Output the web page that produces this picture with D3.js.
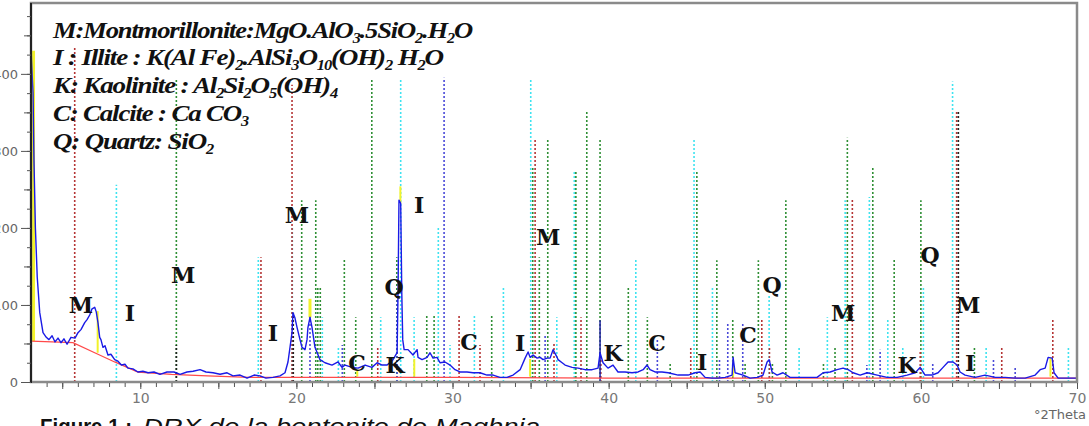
<!DOCTYPE html>
<html><head><meta charset="utf-8">
<script src="https://cdn.jsdelivr.net/npm/d3@7/dist/d3.min.js"></script>
<style>body{margin:0;background:#fff;overflow:hidden}svg{display:block}</style>
</head><body><svg id="c" width="1089" height="426"></svg>
<script>
// ---- data (°2Theta, intensity) ----
const patternTheta = [3.00,3.03,3.13,3.19,3.28,3.40,3.56,3.77,3.98,4.15,4.35,4.54,4.73,4.92,5.11,5.31,5.56,5.82,6.01,6.20,6.44,6.59,6.76,6.91,7.08,7.18,7.29,7.40,7.48,7.61,7.74,7.93,8.12,8.36,8.57,8.79,9.02,9.21,9.53,9.85,10.17,10.50,10.88,11.26,11.71,12.16,12.55,12.99,13.38,13.83,14.21,14.66,15.11,15.56,15.94,16.39,16.84,17.29,17.67,18.05,18.50,18.95,19.27,19.46,19.59,19.72,19.78,19.91,20.04,20.23,20.36,20.55,20.68,20.74,20.87,21.00,21.19,21.39,21.51,21.83,22.28,22.67,22.92,23.12,23.56,23.95,24.40,24.84,25.17,25.49,25.81,26.19,26.45,26.51,26.57,26.68,26.75,26.81,26.90,27.15,27.47,27.73,27.79,28.05,28.37,28.56,28.75,29.01,29.20,29.52,29.84,30.16,30.48,30.93,31.31,31.76,32.21,32.60,33.04,33.49,33.88,34.33,34.65,34.84,34.97,35.16,35.42,35.61,35.80,36.06,36.25,36.44,36.70,36.76,37.02,37.21,37.66,38.04,38.49,38.94,39.32,39.45,39.64,39.96,40.28,40.60,41.05,41.50,41.89,42.21,42.46,42.65,42.97,43.42,43.81,44.45,45.09,45.54,45.86,46.18,46.63,47.01,47.46,47.91,47.97,48.10,48.61,49.06,49.51,49.89,50.15,50.28,50.47,50.79,51.17,51.62,52.07,52.71,53.35,53.74,54.19,54.63,55.02,55.34,55.66,56.11,56.56,57.20,57.84,58.48,59.12,59.64,59.95,60.27,60.72,61.10,61.42,61.74,62.06,62.32,62.51,62.83,63.47,64.11,64.76,65.40,66.04,66.68,67.32,67.64,67.96,68.15,68.41,68.53,68.79,69.24,69.69,70.00];
const patternCounts = [438,418,375,288,201,136,90,64,58,55,60,52,57,51,56,49,58,57,64,68,77,81,87,95,97,91,77,58,55,45,47,35,36,29,27,22,23,18,17,13,14,12,13,10,13,13,10,13,14,16,13,12,10,12,8,9,5,9,8,5,6,8,12,26,45,64,90,83,71,55,45,42,55,71,84,71,45,35,29,25,22,26,19,22,19,18,22,19,25,22,22,29,38,116,236,232,116,55,42,42,35,42,32,29,32,38,31,32,25,26,22,16,13,13,12,12,9,9,6,6,9,16,31,39,32,35,31,32,29,31,31,42,32,29,25,22,19,18,16,16,18,38,25,18,22,13,13,12,13,16,22,16,13,13,12,9,9,12,13,6,5,5,6,9,32,12,9,5,6,9,26,29,13,9,12,6,6,6,6,12,13,16,18,16,12,9,12,9,6,6,9,12,19,9,9,12,19,26,26,22,13,9,6,9,6,6,5,5,9,16,18,32,31,12,5,5,5,5];
const backgroundTheta = [3.00,5.69,7.08,8.36,9.85,12.0,14.3,17.0,20.0,30.0,40.0,50.0,60.0,70.0];
const backgroundCounts = [53,51,38,26,13,10,8,6,6,6,5,5,5,5];

// reference patterns: [theta, relative height in counts]
const refMontmorillonite = [[5.80,435],[17.73,162],[19.72,386],[25.21,45],[30.42,87],[31.76,48],[35.29,316],[36.50,51],[38.23,84],[39.50,31],[45.26,45],[49.81,83],[50.30,45],[55.61,239],[59.96,39],[62.29,351],[65.18,45],[68.45,83]];
const refGreen = [[12.31,392],[20.34,236],[21.24,236],[21.37,123],[21.53,122],[23.07,161],[23.80,84],[24.83,392],[26.43,162],[28.35,87],[28.82,87],[32.51,87],[35.14,279],[35.56,162],[36.10,316],[37.90,275],[38.60,353],[39.45,316],[41.26,122],[42.48,84],[43.94,25],[45.65,275],[46.93,158],[47.95,83],[48.74,25],[49.59,158],[50.49,25],[51.35,236],[53.76,26],[54.50,45],[55.29,317],[56.92,278],[58.29,161],[60.00,236],[63.43,45]];
const refCyan = [[8.47,256],[17.56,162],[19.74,200],[21.66,84],[22.69,45],[25.40,84],[26.68,392],[27.54,84],[29.09,201],[29.84,48],[31.40,87],[33.26,123],[35.01,392],[36.68,84],[37.80,275],[41.74,161],[45.47,314],[46.65,122],[50.28,113],[52.20,44],[54.01,84],[55.15,236],[56.70,240],[57.88,83],[58.84,45],[60.16,122],[62.03,390],[64.18,45],[69.45,44]];
const refBlue = [[20.87,109],[22.94,48],[26.45,116],[29.46,395],[35.93,61],[43.12,57],[47.10,31],[47.63,77],[48.59,78],[56.54,22],[57.39,42],[60.76,25],[64.65,31],[66.04,19]];
const refBlack = [[12.31,48],[19.80,90],[62.40,351]];
const solidBlue = [[39.45,80]];
// peak-search markers: [theta, from, to, width]
const peakMarks = [[3.13,53,430,4],[7.27,38,92,2],[20.87,84,108,3],[26.66,232,254,2],[23.9,7,16,2],[27.55,7,30,2],[34.97,7,30,2],[47.97,7,28,2],[68.30,7,32,2]];

// phase labels: [letter, theta, counts]
const phaseLabels = [["M",6.20,100],["I",9.34,90],["M",12.74,139],["I",18.50,64],["M",20.04,217],["C",23.88,25],["K",26.32,22],["Q",26.25,123],["I",27.86,230],["C",31.06,52],["I",34.33,51],["M",36.12,188],["K",40.28,38],["C",43.10,51],["I",45.99,26],["C",48.93,61],["Q",50.47,126],["M",55.02,90],["K",59.12,22],["Q",60.59,165],["M",63.03,100],["I",63.15,25]];

const xLabelTicks = [10,20,30,40,50,60,70];
const yLabelTicks = [0,100,200,300,400];

// legend lines as [text, isSubscript] pieces
const legendLines = [
 [["M:Montmorillonite:MgO.AlO",0],["3",1],[".5SiO",0],["2",1],[".H",0],["2",1],["O",0]],
 [["I : Illite : K(Al Fe)",0],["2",1],[".AlSi",0],["3",1],["O",0],["10",1],["(OH)",0],["2",1],[" H",0],["2",1],["O",0]],
 [["K: Kaolinite : Al",0],["2",1],["Si",0],["2",1],["O",0],["5",1],["(OH)",0],["4",1]],
 [["C: Calcite : Ca CO",0],["3",1]],
 [["Q: Quartz: SiO",0],["2",1]]
];
const legendWidths = [419,390,284,195,160];

// ---- drawing ----
const svg = d3.select("#c");
const x = d3.scaleLinear().domain([3,70]).range([31,1077]);
const y = d3.scaleLinear().domain([0,492]).range([382,3]);

const plot = svg.append("g");
plot.append("defs").append("clipPath").attr("id","pc").append("rect")
  .attr("x",31).attr("y",3).attr("width",1046).attr("height",379);

const refG = plot.append("g").attr("clip-path","url(#pc)");
function refs(arr,color,w,dash){
  refG.selectAll(null).data(arr).enter().append("line")
   .attr("x1",d=>x(d[0])).attr("x2",d=>x(d[0]))
   .attr("y1",y(0)).attr("y2",d=>y(d[1]))
   .attr("stroke",color).attr("stroke-width",w).attr("stroke-dasharray",dash);
}
refs(refCyan,"#3fe3f0",1.6,"2 2");
refs(refGreen,"#2f8f35",1.6,"2 2");
refs(refMontmorillonite,"#b53535",1.6,"2 2");
refs(refBlue,"#4a4ad8",1.6,"2 2");
refs(refBlack,"#222",1.6,"2 2");
refs(solidBlue,"#2020a0",1.5,null);

refG.selectAll(null).data(peakMarks).enter().append("line")
  .attr("x1",d=>x(d[0])).attr("x2",d=>x(d[0]))
  .attr("y1",d=>y(d[1])).attr("y2",d=>y(d[2]))
  .attr("stroke","#f2f22a").attr("stroke-width",d=>d[3]);

const ln = d3.line().x(d=>x(d[0])).y(d=>y(d[1]));
refG.append("path").datum(backgroundTheta.map((t,i)=>[t,backgroundCounts[i]]))
  .attr("d",ln).attr("fill","none").attr("stroke","#ff4a4a").attr("stroke-width",1.3);
refG.append("path").datum(patternTheta.map((t,i)=>[t,patternCounts[i]]))
  .attr("d",ln).attr("fill","none").attr("stroke","#1a1ae6").attr("stroke-width",1.4).attr("stroke-linejoin","round");

// frame
svg.append("rect").attr("x",31).attr("y",3).attr("width",1046).attr("height",379)
  .attr("fill","none").attr("stroke","#8a8a8a").attr("stroke-width",2.5);
svg.append("line").attr("x1",31).attr("x2",31).attr("y1",3).attr("y2",383)
  .attr("stroke","#222").attr("stroke-width",2);

// axes
function axis(gen){ const g = svg.append("g").call(gen); g.select(".domain").remove();
  g.selectAll("line").attr("stroke","#555"); return g; }
axis(d3.axisBottom(x).tickValues(d3.range(4,70,1)).tickSize(4).tickFormat(""))
  .attr("transform","translate(0,383)");
axis(d3.axisBottom(x).tickValues(d3.range(5,70,10)).tickSize(6).tickFormat(""))
  .attr("transform","translate(0,383)");
const xa = axis(d3.axisBottom(x).tickValues(xLabelTicks).tickSize(6).tickPadding(4))
  .attr("transform","translate(0,383)");
xa.selectAll("text").attr("font-family","DejaVu Sans").attr("font-size",14).attr("fill","#777");

axis(d3.axisLeft(y).tickValues(d3.range(25,492,25)).tickSize(4).tickFormat(""))
  .attr("transform","translate(31,0)");
axis(d3.axisLeft(y).tickValues(d3.range(50,492,100)).tickSize(7).tickFormat(""))
  .attr("transform","translate(31,0)");
const ya = axis(d3.axisLeft(y).tickValues(yLabelTicks).tickSize(10).tickPadding(3))
  .attr("transform","translate(31,0)");
ya.selectAll("text").attr("font-family","DejaVu Sans").attr("font-size",13).attr("fill","#666");

svg.append("text").attr("x",1086).attr("y",419).attr("text-anchor","end")
  .attr("font-family","DejaVu Sans").attr("font-size",13).attr("fill","#666").text("°2Theta");

// phase labels
svg.append("g").selectAll(null).data(phaseLabels).enter().append("text")
  .attr("x",d=>x(d[1])).attr("y",d=>y(d[2])).attr("text-anchor","middle")
  .attr("dominant-baseline","central").attr("font-family","DejaVu Serif")
  .attr("font-weight","bold").attr("font-size",22).attr("fill","#111").text(d=>d[0]);

// legend
const legBase = [38,65,93,121,149];
legendLines.forEach((parts,i)=>{
  const t = svg.append("text").attr("x",53).attr("y",legBase[i])
    .attr("font-family","Liberation Serif").attr("font-style","italic").attr("font-weight","bold")
    .attr("font-size",23).attr("fill","#111").attr("letter-spacing",-1)
    .attr("textLength",legendWidths[i]).attr("lengthAdjust","spacingAndGlyphs");
  let prev = 0;
  parts.forEach(p=>{
    const dy = (p[1]?5:0) - (prev?5:0);
    t.append("tspan").attr("font-size",p[1]?14:23).attr("dy",dy).text(p[0]);
    prev = p[1];
  });
});

// caption (cut at bottom edge)
svg.append("text").attr("x",40).attr("y",434).attr("font-family","Liberation Sans")
  .attr("font-weight","bold").attr("font-size",22).attr("fill","#111")
  .attr("textLength",92).attr("lengthAdjust","spacingAndGlyphs").text("Figure 1 :");
svg.append("text").attr("x",143).attr("y",434).attr("font-family","Liberation Sans")
  .attr("font-style","italic").attr("font-size",22).attr("fill","#111")
  .attr("textLength",397).attr("lengthAdjust","spacingAndGlyphs").text("DRX de la bentonite de Maghnia");
</script></body></html>
